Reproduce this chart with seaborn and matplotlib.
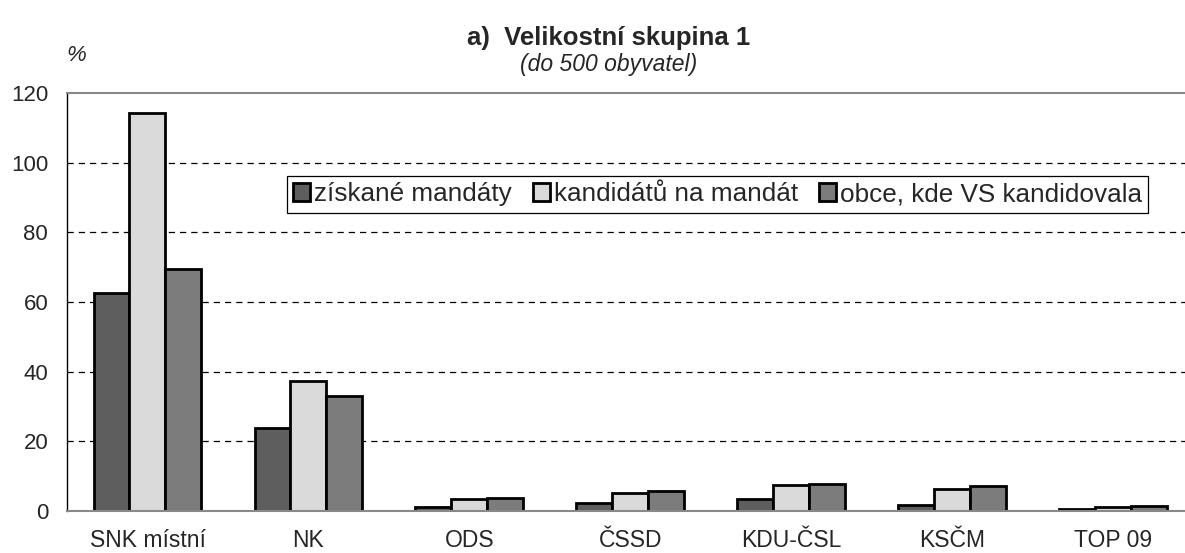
import numpy as np
import pandas as pd
import seaborn as sns
import matplotlib.pyplot as plt
from matplotlib.ticker import FixedLocator

# data
categories = ['SNK místní', 'NK', 'ODS', 'ČSSD', 'KDU-ČSL', 'KSČM', 'TOP 09']
series_names = ['získané mandáty', 'kandidátů na mandát', 'obce, kde VS kandidovala']
mandaty = [62.7, 23.7, 1.2, 2.4, 3.5, 1.8, 0.5]
kandidati = [114.3, 37.4, 3.3, 5.2, 7.5, 6.3, 1.2]
obce = [69.5, 33.1, 3.7, 5.7, 7.8, 7.1, 1.5]
y_ticks = [0, 20, 40, 60, 80, 100, 120]

df = pd.DataFrame({
    'strana': categories * 3,
    'serie': [series_names[0]] * 7 + [series_names[1]] * 7 + [series_names[2]] * 7,
    'hodnota': mandaty + kandidati + obce,
})

sns.set_style('white')
plt.rcParams['font.family'] = ['Liberation Sans', 'DejaVu Sans']

fig = plt.figure(figsize=(11.85, 5.53), dpi=100)
ax = fig.add_axes([0.0565, 0.076, 0.951, 0.756])

palette = ['#5e5e5e', '#dadada', '#7c7c7c']
sns.barplot(data=df, x='strana', y='hodnota', hue='serie', order=categories,
            hue_order=series_names, palette=palette, width=0.67,
            edgecolor='black', linewidth=2, ax=ax, legend=True)

ax.set_xlim(-0.5, len(categories) - 0.5)
ax.set_ylim(0, 120)
ax.set_yticks(y_ticks)
ax.set_yticklabels([str(v) for v in y_ticks], fontsize=16)
for v in y_ticks[1:-1]:
    ax.axhline(v, color='black', linestyle=(0, (5, 4)), linewidth=0.9, zorder=0)

ax.set_xticks(range(len(categories)))
ax.set_xticklabels(categories, fontsize=16.5)
ax.tick_params(axis='x', which='major', length=0, pad=13)
ax.xaxis.set_minor_locator(FixedLocator(np.arange(0.5, len(categories), 1)))
ax.tick_params(axis='x', which='minor', length=6, width=1, color='#444444', direction='out')
ax.tick_params(axis='y', length=5, width=1, color='black', direction='out', pad=8.5)
ax.set_xlabel('')
ax.set_ylabel('')

ax.spines['top'].set_color('#888888')
ax.spines['top'].set_linewidth(1.5)
ax.spines['left'].set_color('black')
ax.spines['left'].set_linewidth(1)
ax.spines['bottom'].set_color('#888888')
ax.spines['bottom'].set_linewidth(1.5)
ax.spines['right'].set_visible(False)

handles, labels = ax.get_legend_handles_labels()
leg = ax.legend(handles, labels, ncol=3, loc='center', bbox_to_anchor=(0.6055, 0.649),
                bbox_transform=fig.transFigure, fontsize=18.8, frameon=True, fancybox=False,
                edgecolor='black', handlelength=0.65, handleheight=0.65, handletextpad=0.15,
                columnspacing=0.8, borderpad=0.25, borderaxespad=0, framealpha=1)
leg.get_frame().set_linewidth(0.9)

fig.text(0.5135, 0.931, 'a)  Velikostní skupina 1', ha='center', va='center',
         fontsize=18.5, fontweight='bold')
fig.text(0.5135, 0.884, '(do 500 obyvatel)', ha='center', va='center',
         fontsize=16.5, style='italic')
fig.text(0.064, 0.9, '%', ha='center', va='center', fontsize=16, style='italic')

fig.savefig('out.png', dpi=100)
plt.close(fig)
